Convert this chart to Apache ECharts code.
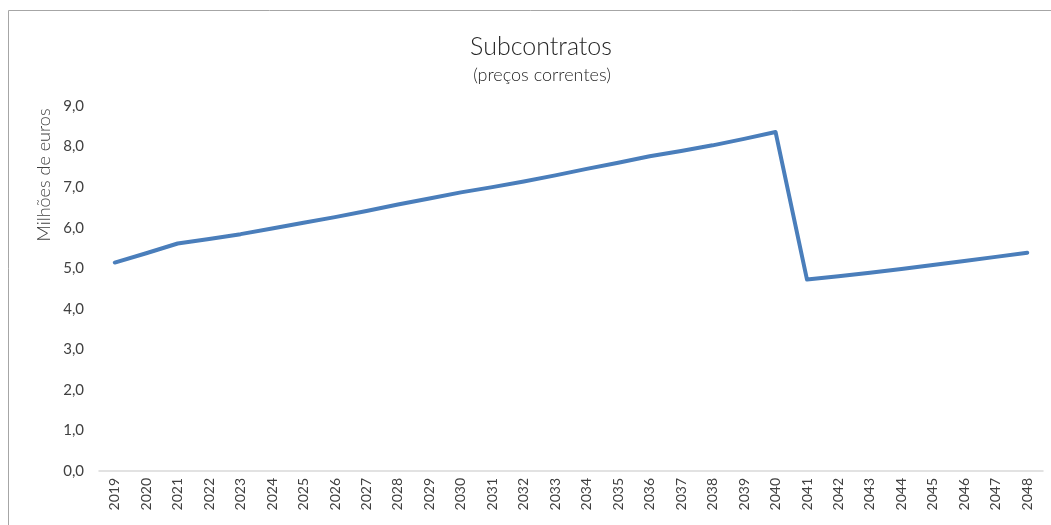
<!DOCTYPE html>
<html>
<head>
<meta charset="utf-8">
<script src="https://cdn.jsdelivr.net/npm/echarts@6/dist/echarts.min.js"></script>
<style>
  html, body { margin: 0; padding: 0; background: #fff; }
  #chart { width: 1051px; height: 525px; }
</style>
</head>
<body>
<div id="chart"></div>
<script>
const anos = ['2019', '2020', '2021', '2022', '2023', '2024', '2025', '2026', '2027', '2028',
  '2029', '2030', '2031', '2032', '2033', '2034', '2035', '2036', '2037', '2038',
  '2039', '2040', '2041', '2042', '2043', '2044', '2045', '2046', '2047', '2048'];
const subcontratos = [5.14, 5.37, 5.61, 5.72, 5.84, 5.98, 6.12, 6.26, 6.41, 6.57,
  6.72, 6.87, 7.00, 7.14, 7.29, 7.45, 7.60, 7.76, 7.89, 8.03,
  8.19, 8.36, 4.72, 4.80, 4.89, 4.98, 5.08, 5.18, 5.28, 5.38];
const yTicks = { min: 0, max: 9, interval: 1 };

const chart = echarts.init(document.getElementById('chart'));
const fonte = 'Lato, "Open Sans", sans-serif';

const option = {
  animation: false,
  textStyle: { fontFamily: fonte },
  title: [{
    text: 'Subcontratos',
    left: 536,
    textAlign: 'center',
    top: 29,
    textStyle: { fontSize: 25, fontWeight: 300, color: '#262626', fontFamily: fonte }
  }, {
    text: '(preços correntes)',
    left: 537,
    textAlign: 'center',
    top: 61,
    textStyle: { fontSize: 18, fontWeight: 300, color: '#262626', fontFamily: fonte }
  }],
  graphic: [{
    type: 'rect',
    shape: { x: 8.5, y: 10.5, width: 1100, height: 600 },
    style: { fill: 'none', stroke: '#a6a6a6', lineWidth: 1 },
    silent: true
  }, {
    type: 'text',
    x: 35,
    y: 175,
    rotation: Math.PI / 2,
    style: {
      text: 'Milhões de euros',
      fontSize: 18,
      fontWeight: 300,
      fontFamily: fonte,
      fill: '#404040',
      align: 'center',
      verticalAlign: 'top'
    }
  }],
  grid: { left: 99, right: 8, top: 106, bottom: 54, containLabel: false },
  xAxis: {
    type: 'category',
    data: anos,
    boundaryGap: true,
    axisLine: { lineStyle: { color: '#d9d9d9', width: 1.5 } },
    axisTick: { show: false },
    axisLabel: {
      rotate: 90,
      interval: 0,
      margin: 7,
      fontSize: 14,
      color: '#404040',
      fontFamily: fonte
    }
  },
  yAxis: {
    type: 'value',
    min: yTicks.min,
    max: yTicks.max,
    interval: yTicks.interval,
    splitLine: { show: false },
    axisLine: { show: false },
    axisTick: { show: false },
    axisLabel: {
      fontSize: 15,
      color: '#404040',
      margin: 15,
      fontFamily: fonte,
      formatter: v => v.toFixed(1).replace('.', ',')
    }
  },
  series: [{
    name: 'Subcontratos',
    type: 'line',
    data: subcontratos,
    symbol: 'none',
    lineStyle: { color: '#4a7ebb', width: 4, join: 'round', cap: 'round' }
  }]
};

chart.setOption(option);
</script>
</body>
</html>
